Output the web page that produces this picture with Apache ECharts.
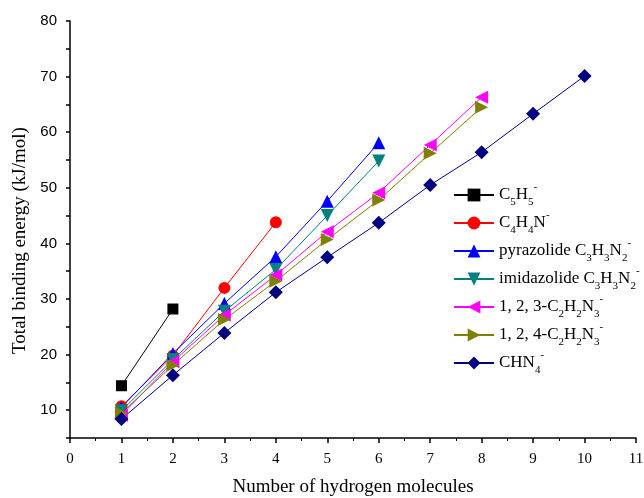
<!DOCTYPE html>
<html>
<head>
<meta charset="utf-8">
<script src="https://cdn.jsdelivr.net/npm/echarts@6/dist/echarts.min.js"></script>
<style>
  html, body { margin: 0; padding: 0; background: #fff; }
  #chart { width: 644px; height: 498px; }
</style>
</head>
<body>
<div id="chart"></div>
<script>
// data
var hydrogens = [1, 2, 3, 4, 5, 6, 7, 8, 9, 10];
var c5h5 = [14.4, 28.2];
var c4h4n = [10.7, 19.8, 32.0, 43.8];
var pyrazolide = [10.5, 20.2, 29.2, 37.6, 47.6, 58.1];
var imidazolide = [9.9, 19.1, 27.8, 35.3, 45.0, 54.8];
var triazole123 = [9.1, 18.7, 27.1, 34.3, 42.1, 49.1, 57.7, 66.3];
var triazole124 = [9.5, 18.1, 26.3, 33.2, 40.7, 47.8, 56.2, 64.5];
var chn4 = [8.4, 16.3, 23.9, 31.2, 37.5, 43.7, 50.5, 56.4, 63.3, 70.1];
var yTicks = [10, 20, 30, 40, 50, 60, 70, 80];

var names = ['C5H5', 'C4H4N', 'pyrazolide', 'imidazolide', 't123', 't124', 'CHN4'];
var legendText = {
    'C5H5': 'C{s|5}H{s|5}{p|-}',
    'C4H4N': 'C{s|4}H{s|4}N{p|-}',
    'pyrazolide': 'pyrazolide C{s|3}H{s|3}N{s|2}{p|-}',
    'imidazolide': 'imidazolide C{s|3}H{s|3}N{s|2}{p|-}',
    't123': '1, 2, 3-C{s|2}H{s|2}N{s|3}{p|-}',
    't124': '1, 2, 4-C{s|2}H{s|2}N{s|3}{p|-}',
    'CHN4': 'CHN{s|4}{p|-}'
};

function pts(vals) {
    return vals.map(function (v, i) { return [hydrogens[i], v]; });
}

function makeSeries(name, vals, color, symbol, size, rotate) {
    return {
        name: name,
        type: 'line',
        data: pts(vals),
        symbol: symbol,
        symbolSize: size,
        symbolRotate: rotate || 0,
        showAllSymbol: true,
        lineStyle: { color: color, width: 1 },
        itemStyle: { color: color },
        emphasis: { disabled: true },
        animation: false
    };
}

var chart = echarts.init(document.getElementById('chart'));
var serif = '"Liberation Serif", "Times New Roman", serif';

var option = {
    backgroundColor: '#fff',
    grid: { left: 70, right: 8, top: 21, bottom: 60, containLabel: false, outerBoundsMode: 'none' },
    xAxis: {
        type: 'value',
        min: 0, max: 11, interval: 1,
        name: 'Number of hydrogen molecules',
        nameLocation: 'middle',
        nameGap: 40,
        nameTextStyle: { fontFamily: serif, fontSize: 19, color: '#000' },
        axisLine: { lineStyle: { color: '#000', width: 1.5 } },
        axisTick: { length: 5, lineStyle: { color: '#000', width: 1.5 } },
        minorTick: { show: true, splitNumber: 2, length: 3, lineStyle: { color: '#000' } },
        splitLine: { show: false },
        axisLabel: { fontFamily: serif, fontSize: 15, color: '#000', margin: 14 }
    },
    yAxis: {
        type: 'value',
        min: 5, max: 80, interval: 5,
        name: 'Total binding energy (kJ/mol)',
        nameLocation: 'middle',
        nameGap: 40,
        nameTextStyle: { fontFamily: serif, fontSize: 19, color: '#000', padding: [0, 22, 0, 0] },
        axisLine: { show: true, lineStyle: { color: '#000', width: 1.5 } },
        axisTick: { show: true, length: 4, lineStyle: { color: '#000', width: 1.5 } },
        splitLine: { show: false },
        axisLabel: {
            fontFamily: '"Liberation Sans", Arial, sans-serif', fontSize: 15, color: '#000', margin: 13,
            formatter: function (v) { return yTicks.indexOf(v) >= 0 ? String(v) : ''; }
        }
    },
    legend: {
        orient: 'vertical',
        left: 453,
        top: 182,
        padding: 0,
        itemWidth: 40,
        itemHeight: 16,
        itemGap: 2,
        formatter: function (n) { return legendText[n]; },
        textStyle: {
            fontFamily: serif, fontSize: 17, color: '#000', lineHeight: 26,
            rich: {
                s: { fontFamily: serif, fontSize: 11, lineHeight: 10, verticalAlign: 'bottom', color: '#000' },
                p: { fontFamily: serif, fontSize: 11, lineHeight: 10, verticalAlign: 'top', color: '#000' }
            }
        },
        data: names
    },
    series: [
        makeSeries('C5H5', c5h5, '#000000', 'rect', 11),
        makeSeries('C4H4N', c4h4n, '#ff0000', 'circle', 12),
        makeSeries('pyrazolide', pyrazolide, '#0000ff', 'triangle', 13),
        makeSeries('imidazolide', imidazolide, '#008080', 'triangle', 13, 180),
        makeSeries('t123', triazole123, '#ff00ff', 'triangle', 13, 90),
        makeSeries('t124', triazole124, '#808000', 'triangle', 13, -90),
        makeSeries('CHN4', chn4, '#000080', 'diamond', 14)
    ]
};

option && chart.setOption(option);
</script>
</body>
</html>
